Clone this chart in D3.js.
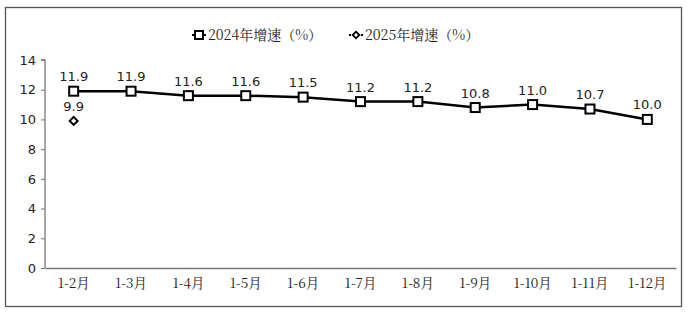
<!DOCTYPE html>
<html>
<head>
<meta charset="utf-8">
<script src="https://cdn.jsdelivr.net/npm/d3@7"></script>
<style>
  body { margin: 0; background: #fff; }
</style>
</head>
<body>
<div id="chart"></div>
<script>
const months = ["1-2月", "1-3月", "1-4月", "1-5月", "1-6月", "1-7月", "1-8月", "1-9月", "1-10月", "1-11月", "1-12月"];
const growth2024 = [11.9, 11.9, 11.6, 11.6, 11.5, 11.2, 11.2, 10.8, 11.0, 10.7, 10.0];
const growth2025 = [9.9];
const yTicks = [0, 2, 4, 6, 8, 10, 12, 14];
const legendNames = ["2024年增速（%）", "2025年增速（%）"];

const W = 688, H = 314;
const margin = {top: 60, right: 12, bottom: 46, left: 45};
const width = W - margin.left - margin.right;
const height = H - margin.top - margin.bottom;
const serif = "'Noto Serif CJK SC', 'Liberation Serif', 'DejaVu Serif', serif";
const sans = "'DejaVu Sans', sans-serif";

let svg = d3.select("#chart").append("svg")
  .attr("width", W)
  .attr("height", H);

// outer frame
svg.append("rect")
  .attr("x", 5.5).attr("y", 7.5)
  .attr("width", 676).attr("height", 299)
  .attr("fill", "none").attr("stroke", "#555").attr("stroke-width", 1.3);

let g = svg.append("g")
  .attr("transform", "translate(" + margin.left + "," + margin.top + ")");

let x = d3.scaleBand().domain(months).range([0, width]);
let y = d3.scaleLinear().domain([0, 14]).range([height, 0]);
const cx = d => x(d) + x.bandwidth() / 2;

// y axis
let yAxis = g.append("g")
  .call(d3.axisLeft(y).tickValues(yTicks).tickSize(4).tickPadding(5));
yAxis.select(".domain").attr("stroke", "#777").attr("stroke-width", 1.3)
  .attr("d", "M-4," + y(14) + "H0V" + height);
yAxis.selectAll(".tick line").attr("stroke", "#777");
yAxis.selectAll("text").attr("font-family", sans).attr("font-size", 13).attr("fill", "#222");

// x axis
let xAxis = g.append("g")
  .attr("transform", "translate(0," + height + ")")
  .call(d3.axisBottom(x).tickSize(0).tickPadding(10));
xAxis.select(".domain").attr("stroke", "#777").attr("stroke-width", 1.6);
xAxis.selectAll("text").attr("font-family", serif).attr("font-size", 13.5).attr("fill", "#222");

// 2024 line
g.append("path")
  .datum(growth2024)
  .attr("fill", "none")
  .attr("stroke", "#000")
  .attr("stroke-width", 2.5)
  .attr("d", d3.line().x((d, i) => cx(months[i])).y(d => y(d)));

g.selectAll(".sq")
  .data(growth2024)
  .join("rect")
  .attr("x", (d, i) => cx(months[i]) - 4.5)
  .attr("y", d => y(d) - 4.5)
  .attr("width", 9).attr("height", 9)
  .attr("fill", "#fff").attr("stroke", "#000").attr("stroke-width", 2);

g.selectAll(".lab24")
  .data(growth2024)
  .join("text")
  .attr("x", (d, i) => cx(months[i]))
  .attr("y", d => y(d) - 10)
  .attr("text-anchor", "middle")
  .attr("font-family", sans).attr("font-size", 13).attr("fill", "#222")
  .text(d => d.toFixed(1));

// 2025 points
const diamond = d3.symbol().type(d3.symbolDiamond2).size(40);
g.selectAll(".dm")
  .data(growth2025)
  .join("path")
  .attr("transform", (d, i) => "translate(" + cx(months[i]) + "," + y(d) + ")")
  .attr("d", diamond)
  .attr("fill", "#fff").attr("stroke", "#000").attr("stroke-width", 2);

g.selectAll(".lab25")
  .data(growth2025)
  .join("text")
  .attr("x", (d, i) => cx(months[i]))
  .attr("y", d => y(d) - 10)
  .attr("text-anchor", "middle")
  .attr("font-family", sans).attr("font-size", 13).attr("fill", "#222")
  .text(d => d.toFixed(1));

// legend
let legend = svg.append("g").attr("transform", "translate(0,35)");
const legendX = [192, 349];
legendNames.forEach((name, i) => {
  let lg = legend.append("g").attr("transform", "translate(" + legendX[i] + ",0)");
  lg.append("line").attr("x1", 0).attr("x2", 14).attr("y1", 0).attr("y2", 0)
    .attr("stroke", "#000").attr("stroke-width", 2).attr("stroke-dasharray", "2,2");
  if (i === 0) {
    lg.append("rect").attr("x", 3).attr("y", -4).attr("width", 8).attr("height", 8)
      .attr("fill", "#fff").attr("stroke", "#000").attr("stroke-width", 2);
  } else {
    lg.append("path").attr("transform", "translate(7,0)")
      .attr("d", d3.symbol().type(d3.symbolDiamond2).size(28))
      .attr("fill", "#fff").attr("stroke", "#000").attr("stroke-width", 1.8);
  }
  lg.append("text").attr("x", 16).attr("y", 5)
    .attr("font-family", serif).attr("font-size", 14).attr("fill", "#222")
    .text(name);
});
</script>
</body>
</html>
